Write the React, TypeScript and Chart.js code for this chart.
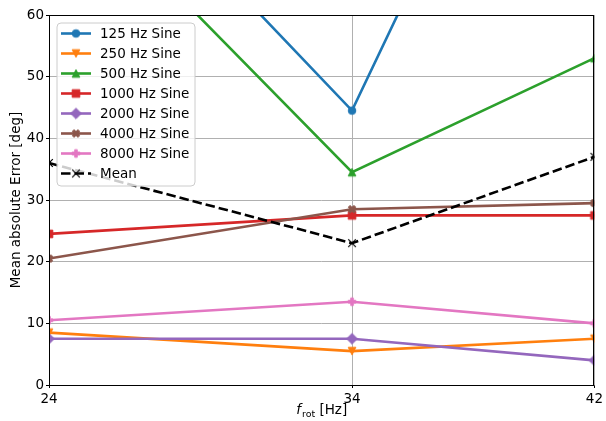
import React, { useEffect, useRef } from 'react';
import { Chart, registerables } from 'chart.js';

Chart.register(...registerables);

// ---- data ----
const rotSpeeds = [24, 34, 42];
const xTicks = [24, 34, 42];
const sine125 = [96, 44.5, 127];
const sine250 = [8.5, 5.5, 7.5];
const sine500 = [84.5, 34.5, 53];
const sine1000 = [24.5, 27.5, 27.5];
const sine2000 = [7.5, 7.5, 4];
const sine4000 = [20.5, 28.5, 29.5];
const sine8000 = [10.5, 13.5, 10];
const meanErr = [36, 23, 37];
const seriesLabels = ['125 Hz Sine', '250 Hz Sine', '500 Hz Sine', '1000 Hz Sine', '2000 Hz Sine', '4000 Hz Sine', '8000 Hz Sine', 'Mean'];
const seriesValues = [sine125, sine250, sine500, sine1000, sine2000, sine4000, sine8000, meanErr];
const seriesColors = ['#1f77b4', '#ff7f0e', '#2ca02c', '#d62728', '#9467bd', '#8c564b', '#e377c2', '#000000'];
const seriesMarkers = ['circle', 'triDown', 'triUp', 'square', 'diamond', 'xFilled', 'plusFilled', 'x'];
const yTitle = 'Mean absolute Error [deg]';

const FONT = '"DejaVu Sans", sans-serif';
const FS = 13.5;
const MS = 7.6;

function makeMarker(kind: string, color: string): HTMLCanvasElement {
  const c = document.createElement('canvas');
  c.width = 20;
  c.height = 20;
  const ctx = c.getContext('2d')!;
  ctx.translate(10, 10);
  ctx.fillStyle = color;
  ctx.strokeStyle = color;
  ctx.lineWidth = 1;
  ctx.lineJoin = 'miter';
  const h = MS / 2;
  const poly = (pts: number[][]) => {
    ctx.beginPath();
    pts.forEach((p, i) => (i === 0 ? ctx.moveTo(p[0], p[1]) : ctx.lineTo(p[0], p[1])));
    ctx.closePath();
    ctx.fill();
    ctx.stroke();
  };
  if (kind === 'circle') {
    ctx.beginPath();
    ctx.arc(0, 0, h, 0, Math.PI * 2);
    ctx.fill();
    ctx.stroke();
  } else if (kind === 'triDown') {
    poly([[0, h], [-h, -h], [h, -h]]);
  } else if (kind === 'triUp') {
    poly([[0, -h], [-h, h], [h, h]]);
  } else if (kind === 'square') {
    poly([[-h, -h], [h, -h], [h, h], [-h, h]]);
  } else if (kind === 'diamond') {
    const d = MS * Math.SQRT2 / 2;
    poly([[0, -d], [d, 0], [0, d], [-d, 0]]);
  } else if (kind === 'xFilled') {
    const s = MS / 4;
    const v = [[-1, -2], [0, -1], [1, -2], [2, -1], [1, 0], [2, 1], [1, 2], [0, 1], [-1, 2], [-2, 1], [-1, 0], [-2, -1]];
    poly(v.map((p) => [p[0] * s, p[1] * s]));
  } else if (kind === 'plusFilled') {
    const s = MS / 6;
    const v = [[-1, -3], [1, -3], [1, -1], [3, -1], [3, 1], [1, 1], [1, 3], [-1, 3], [-1, 1], [-3, 1], [-3, -1], [-1, -1]];
    poly(v.map((p) => [p[0] * s, p[1] * s]));
  } else if (kind === 'x') {
    ctx.lineWidth = 1.2;
    ctx.beginPath();
    ctx.moveTo(-h, -h);
    ctx.lineTo(h, h);
    ctx.moveTo(-h, h);
    ctx.lineTo(h, -h);
    ctx.stroke();
  }
  return c;
}

export default function App() {
  const ref = useRef<HTMLCanvasElement | null>(null);

  useEffect(() => {
    document.body.style.margin = '0';
    const canvas = ref.current;
    if (!canvas) return;
    const markers = seriesMarkers.map((m, i) => makeMarker(m, seriesColors[i]));

    const overlay = {
      id: 'mplOverlay',
      afterDatasetsDraw(chart: any) {
        const { ctx, chartArea } = chart;
        const { left, right, top, bottom } = chartArea;
        ctx.save();
        // spines
        ctx.strokeStyle = '#000';
        ctx.lineWidth = 1;
        ctx.strokeRect(Math.round(left) + 0.5, Math.round(top) + 0.5, Math.round(right - left) - 1 + 0.0, Math.round(bottom - top) - 0 );
        // legend
        const lx = 57, ly = 23, lw = 138, lh = 163, r = 4;
        ctx.beginPath();
        ctx.moveTo(lx + r, ly);
        ctx.arcTo(lx + lw, ly, lx + lw, ly + lh, r);
        ctx.arcTo(lx + lw, ly + lh, lx, ly + lh, r);
        ctx.arcTo(lx, ly + lh, lx, ly, r);
        ctx.arcTo(lx, ly, lx + lw, ly, r);
        ctx.closePath();
        ctx.fillStyle = 'rgba(255,255,255,0.8)';
        ctx.fill();
        ctx.strokeStyle = '#cccccc';
        ctx.lineWidth = 1;
        ctx.stroke();
        seriesLabels.forEach((lab, i) => {
          const y = 33.5 + i * 20;
          ctx.beginPath();
          ctx.strokeStyle = seriesColors[i];
          ctx.lineWidth = 2.6;
          if (i === 7) ctx.setLineDash([9.5, 4]); else ctx.setLineDash([]);
          ctx.moveTo(61, y);
          ctx.lineTo(91, y);
          ctx.stroke();
          ctx.setLineDash([]);
          const m = markers[i];
          ctx.drawImage(m, 76 - m.width / 2, y - m.height / 2);
          ctx.fillStyle = '#000';
          ctx.font = `${FS}px ${FONT}`;
          ctx.textAlign = 'left';
          ctx.textBaseline = 'middle';
          ctx.fillText(lab, 100, y + 0.5);
        });
        // y title
        ctx.save();
        ctx.translate(16.5, (top + bottom) / 2);
        ctx.rotate(-Math.PI / 2);
        ctx.fillStyle = '#000';
        ctx.font = `${FS}px ${FONT}`;
        ctx.textAlign = 'center';
        ctx.textBaseline = 'middle';
        ctx.fillText(yTitle, 0, 0);
        ctx.restore();
        // x title: f_rot [Hz]
        const fItalic = `italic ${FS}px ${FONT}`;
        const fMain = `${FS}px ${FONT}`;
        const fSub = `${FS * 0.7}px ${FONT}`;
        ctx.font = fItalic;
        const w1 = ctx.measureText('f').width;
        ctx.font = fSub;
        const w2 = ctx.measureText('rot').width;
        ctx.font = fMain;
        const w3 = ctx.measureText(' [Hz]').width;
        const total = w1 + w2 + w3 + 1;
        let x = (left + right) / 2 - total / 2;
        const base = 414;
        ctx.textAlign = 'left';
        ctx.textBaseline = 'alphabetic';
        ctx.fillStyle = '#000';
        ctx.font = fItalic;
        ctx.fillText('f', x, base);
        x += w1 + 1;
        ctx.font = fSub;
        ctx.fillText('rot', x, base + 3);
        x += w2;
        ctx.font = fMain;
        ctx.fillText(' [Hz]', x, base);
        ctx.restore();
      },
    };

    const chart = new Chart(canvas, {
      type: 'line',
      data: {
        datasets: seriesValues.map((vals, i) => ({
          label: seriesLabels[i],
          data: vals.map((v, j) => ({ x: rotSpeeds[j], y: v })),
          borderColor: seriesColors[i],
          backgroundColor: seriesColors[i],
          borderWidth: 2.6,
          borderDash: i === 7 ? [9.5, 4] : [],
          pointStyle: markers[i] as any,
          pointRadius: 4,
          pointHoverRadius: 4,
          tension: 0,
          fill: false,
          clip: 0,
          order: seriesValues.length - i,
        })),
      },
      options: {
        animation: false,
        responsive: false,
        maintainAspectRatio: false,
        events: [],
        layout: { padding: { top: 15, right: 10, left: 0, bottom: 0 } },
        plugins: {
          legend: { display: false },
          tooltip: { enabled: false },
          title: { display: false },
        },
        scales: {
          x: {
            type: 'linear',
            min: 24,
            max: 42,
            afterBuildTicks: (scale: any) => {
              scale.ticks = xTicks.map((v) => ({ value: v }));
            },
            afterFit: (scale: any) => {
              scale.height = 36;
            },
            grid: {
              color: '#b0b0b0',
              lineWidth: 1,
              tickColor: '#000',
              tickLength: 3,
              drawTicks: true,
            },
            border: { display: false },
            ticks: {
              color: '#000',
              font: { family: FONT, size: FS },
              padding: 3,
              maxRotation: 0,
              autoSkip: false,
              callback: (v: any) => String(v),
            },
          },
          y: {
            type: 'linear',
            min: 0,
            max: 60,
            afterFit: (scale: any) => {
              scale.width = 49;
            },
            grid: {
              color: '#b0b0b0',
              lineWidth: 1,
              tickColor: '#000',
              tickLength: 3,
              drawTicks: true,
            },
            border: { display: false },
            ticks: {
              stepSize: 10,
              color: '#000',
              font: { family: FONT, size: FS },
              padding: 2,
            },
          },
        },
      },
      plugins: [overlay],
    } as any);

    return () => chart.destroy();
  }, []);

  return (
    <div style={{ width: 606, height: 421, position: 'relative', background: '#fff' }}>
      <canvas ref={ref} width={606} height={421} style={{ width: 606, height: 421, display: 'block' }} />
    </div>
  );
}
